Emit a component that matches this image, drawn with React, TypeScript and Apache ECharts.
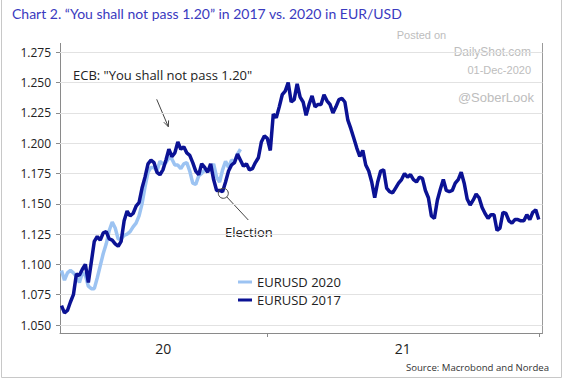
import React, { useEffect, useRef } from "react";
import * as echarts from "echarts";

// Day offsets counted from 1 January of the first displayed year ("20")
const DAY_START = 90;
const DAY_STEP = 4;

const eurusd2017: number[] = [
  1.066, 1.060, 1.062, 1.069, 1.075, 1.092, 1.091, 1.096, 1.100, 1.085,
  1.102, 1.119, 1.123, 1.120, 1.126, 1.127, 1.121, 1.120, 1.117, 1.115,
  1.119, 1.136, 1.144, 1.140, 1.142, 1.148, 1.151, 1.163, 1.172, 1.183,
  1.186, 1.184, 1.176, 1.174, 1.178, 1.186, 1.195, 1.189, 1.192, 1.201,
  1.195, 1.197, 1.192, 1.190, 1.184, 1.177, 1.174, 1.183, 1.180, 1.176,
  1.183, 1.170, 1.161, 1.161, 1.160, 1.168, 1.177, 1.182, 1.184, 1.191,
  1.186, 1.181, 1.183, 1.178, 1.179, 1.184, 1.188, 1.201, 1.206, 1.204,
  1.194, 1.224, 1.221, 1.230, 1.240, 1.243, 1.250, 1.234, 1.236, 1.249,
  1.238, 1.234, 1.223, 1.232, 1.239, 1.230, 1.232, 1.232, 1.240, 1.235,
  1.232, 1.225, 1.230, 1.236, 1.237, 1.234, 1.219, 1.212, 1.204, 1.196,
  1.189, 1.194, 1.182, 1.177, 1.168, 1.155, 1.168, 1.177, 1.178, 1.163,
  1.160, 1.159, 1.163, 1.167, 1.170, 1.175, 1.172, 1.174, 1.170, 1.168,
  1.172, 1.171, 1.161, 1.155, 1.140, 1.138, 1.153, 1.162, 1.170, 1.161,
  1.160, 1.161, 1.167, 1.170, 1.176, 1.167, 1.154, 1.149, 1.153, 1.158,
  1.155, 1.147, 1.142, 1.138, 1.141, 1.141, 1.128, 1.130, 1.143, 1.142,
  1.136, 1.134, 1.137, 1.137, 1.136, 1.136, 1.141, 1.137, 1.143, 1.145, 1.137,
];

const eurusd2020: number[] = [
  1.095, 1.087, 1.093, 1.095, 1.093, 1.090, 1.085, 1.093, 1.091, 1.082,
  1.080, 1.080, 1.089, 1.099, 1.109, 1.117, 1.128, 1.135, 1.130, 1.121,
  1.121, 1.124, 1.125, 1.127, 1.131, 1.134, 1.140, 1.150, 1.164, 1.176,
  1.180, 1.180, 1.177, 1.185, 1.183, 1.184, 1.188, 1.187, 1.182, 1.182,
  1.179, 1.183, 1.184, 1.177, 1.167, 1.166, 1.173, 1.175, 1.178, 1.178,
  1.178, 1.183, 1.172, 1.168, 1.178, 1.185, 1.180, 1.186, 1.185, 1.191, 1.195,
];

const seriesNames = ["EURUSD 2020", "EURUSD 2017"];
const xMinDay = 88;
const xMaxDay = 735;
const yearTickDays = [365.25, 730.5];
const yearLabelDays = [226.5, 547.5];
const yearLabels = ["20", "21"];
const yMin = 1.05;
const yMax = 1.275;
const yStep = 0.025;

const titleText = "Chart 2. \u201CYou shall not pass 1.20\u201D in 2017 vs. 2020 in EUR/USD";
const ecbNote = "ECB: \"You shall not pass 1.20\"";
const electionNote = "Election";
const sourceText = "Source: Macrobond and Nordea";

const toPoints = (vals: number[]) => vals.map((v, i) => [DAY_START + i * DAY_STEP, v]);

export default function App() {
  const ref = useRef<HTMLDivElement>(null);
  useEffect(() => {
    if (!ref.current) return;
    const chart = echarts.init(ref.current, undefined, { renderer: "svg" });
    const font = "Open Sans";
    const gray = "#8a8a8a";
    const option: any = {
      animation: false,
      backgroundColor: "#ffffff",
      textStyle: { fontFamily: font },
      grid: { left: 60, right: 21.5, top: 52.3, bottom: 54, containLabel: false },
      legend: {
        orient: "vertical",
        left: 233,
        top: 270.5,
        itemWidth: 14,
        itemHeight: 3,
        itemGap: 5,
        icon: "rect",
        data: seriesNames,
        textStyle: { fontFamily: font, fontSize: 13, color: "#222" },
      },
      xAxis: {
        type: "value",
        min: xMinDay,
        max: xMaxDay,
        offset: 8,
        axisLine: { show: true, lineStyle: { color: gray, width: 1 } },
        axisTick: { show: true, customValues: yearTickDays, length: 4, lineStyle: { color: gray } },
        axisLabel: {
          customValues: yearLabelDays,
          margin: 8,
          fontSize: 14,
          fontFamily: font,
          color: "#222",
          formatter: (v: number) => {
            let best = 0;
            yearLabelDays.forEach((d, i) => {
              if (Math.abs(d - v) < Math.abs(yearLabelDays[best] - v)) best = i;
            });
            return yearLabels[best];
          },
        },
        splitLine: { show: false },
      },
      yAxis: {
        type: "value",
        min: yMin,
        max: yMax,
        interval: yStep,
        axisLine: { show: false },
        axisTick: { show: true, length: 4, lineStyle: { color: gray } },
        axisLabel: {
          margin: 9,
          fontSize: 12,
          fontFamily: font,
          color: "#222",
          formatter: (v: number) => v.toFixed(3),
        },
        splitLine: { show: true, lineStyle: { color: "#e2e2e2", width: 1 } },
      },
      series: [
        {
          name: seriesNames[0],
          type: "line",
          data: toPoints(eurusd2020),
          showSymbol: false,
          clip: false,
          lineStyle: { color: "#9cc3f2", width: 3.5 },
          itemStyle: { color: "#9cc3f2" },
          z: 2,
        },
        {
          name: seriesNames[1],
          type: "line",
          data: toPoints(eurusd2017),
          showSymbol: false,
          clip: false,
          lineStyle: { color: "#0b1294", width: 3.5 },
          itemStyle: { color: "#0b1294" },
          z: 3,
        },
      ],
      graphic: [
        { type: "rect", shape: { x: 1.5, y: -2, width: 560, height: 379.5 }, style: { fill: "none", stroke: "#c8c8c8", lineWidth: 1 }, silent: true },
        { type: "line", shape: { x1: 60.5, y1: 43, x2: 60.5, y2: 333 }, style: { stroke: gray, lineWidth: 1 }, silent: true },
        { type: "line", shape: { x1: 542.5, y1: 43, x2: 542.5, y2: 333 }, style: { stroke: "#9a9a9a", lineWidth: 1 }, silent: true },
        { type: "text", x: 12, y: 13, style: { text: titleText, fill: "#3a3ac0", font: "14px Lato", verticalAlign: "middle" }, silent: true },
        { type: "text", x: 396.7, y: 35, style: { text: "Posted on", fill: "#bdbdbd", font: "11px \"Liberation Sans\"", verticalAlign: "middle" }, silent: true },
        { type: "text", x: 531, y: 52, style: { text: "DailyShot.com", fill: "#bdbdbd", font: "12px \"Liberation Sans\"", align: "right", verticalAlign: "middle" }, silent: true },
        { type: "text", x: 531, y: 70, style: { text: "01-Dec-2020", fill: "#bdbdbd", font: "11px \"Liberation Sans\"", align: "right", verticalAlign: "middle" }, silent: true },
        { type: "text", x: 534, y: 97, style: { text: "@SoberLook", fill: "#bdbdbd", font: "13px \"Liberation Sans\"", align: "right", verticalAlign: "middle" }, silent: true },
        { type: "text", x: 73, y: 75, style: { text: ecbNote, fill: "#222", font: `13px "${font}"`, verticalAlign: "middle" }, silent: true },
        { type: "line", shape: { x1: 156.7, y1: 99.3, x2: 168.3, y2: 126.7 }, style: { stroke: "#444", lineWidth: 1 }, silent: true },
        { type: "polyline", shape: { points: [[163.8, 122.2], [168.3, 126.7], [168.6, 120.4]] }, style: { stroke: "#444", lineWidth: 1, fill: "none" }, silent: true },
        { type: "circle", shape: { cx: 223.3, cy: 193.3, r: 5 }, style: { stroke: "#444", lineWidth: 1, fill: "none" }, silent: true, z: 10 },
        { type: "line", shape: { x1: 226.8, y1: 196.9, x2: 248.3, y2: 220 }, style: { stroke: "#444", lineWidth: 1 }, silent: true },
        { type: "text", x: 225, y: 231.7, style: { text: electionNote, fill: "#222", font: `13px "${font}"`, verticalAlign: "middle" }, silent: true },
        { type: "text", x: 549, y: 367, style: { text: sourceText, fill: "#333", font: `9.6px "${font}"`, align: "right", verticalAlign: "middle" }, silent: true },
      ],
    };
    chart.setOption(option);
    return () => chart.dispose();
  }, []);
  return <div ref={ref} style={{ position: "absolute", left: 0, top: 0, width: 564, height: 379 }} />;
}
